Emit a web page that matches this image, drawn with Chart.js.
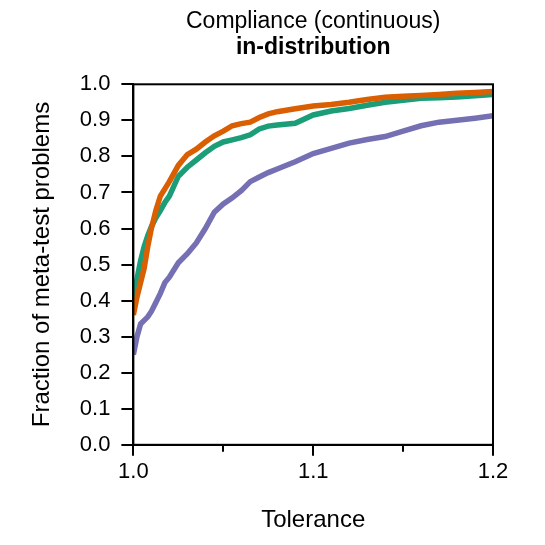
<!DOCTYPE html>
<html>
<head>
<meta charset="utf-8">
<script src="https://cdn.jsdelivr.net/npm/chart.js@4.4.0/dist/chart.umd.min.js"></script>
<style>
  body { margin: 0; background: #fff; }
  #wrap { width: 545px; height: 545px; }
</style>
</head>
<body>
<div id="wrap"><canvas id="chart" width="545" height="545"></canvas></div>
<script>
// Tolerance values shared by all three curves
const tolerance = [1.0, 1.002, 1.004, 1.006, 1.008, 1.01, 1.0125, 1.015, 1.0175, 1.02,
  1.025, 1.03, 1.035, 1.04, 1.045, 1.05, 1.055, 1.06, 1.065, 1.07, 1.075, 1.08,
  1.09, 1.1, 1.11, 1.12, 1.13, 1.14, 1.15, 1.16, 1.17, 1.18, 1.19, 1.2];

// Fraction of meta-test problems solved within the tolerance
const orangeSeries = [0.36, 0.41, 0.45, 0.49, 0.55, 0.60, 0.65, 0.69, 0.71, 0.73,
  0.775, 0.805, 0.82, 0.84, 0.857, 0.87, 0.885, 0.891, 0.895, 0.908, 0.918, 0.924,
  0.932, 0.94, 0.944, 0.95, 0.958, 0.964, 0.967, 0.969, 0.972, 0.975, 0.977, 0.98];
const greenSeries = [0.39, 0.46, 0.51, 0.55, 0.58, 0.605, 0.63, 0.65, 0.672, 0.69,
  0.745, 0.77, 0.79, 0.81, 0.828, 0.84, 0.846, 0.852, 0.86, 0.876, 0.884, 0.887,
  0.892, 0.915, 0.926, 0.933, 0.942, 0.95, 0.956, 0.961, 0.963, 0.965, 0.968, 0.972];
const purpleSeries = [0.25, 0.30, 0.335, 0.345, 0.355, 0.37, 0.395, 0.42, 0.45, 0.465,
  0.505, 0.53, 0.56, 0.60, 0.645, 0.668, 0.685, 0.705, 0.73, 0.743, 0.755, 0.765,
  0.785, 0.808, 0.822, 0.837, 0.847, 0.855, 0.87, 0.885, 0.895, 0.9, 0.906, 0.913];

// Axis ticks
const xTicks = [1.0, 1.05, 1.1, 1.15, 1.2];
const xTickLabels = ['1.0', '', '1.1', '', '1.2'];
const yTicks = [0.0, 0.1, 0.2, 0.3, 0.4, 0.5, 0.6, 0.7, 0.8, 0.9, 1.0];

const FONT = "'Liberation Sans', Arial, sans-serif";

function toPoints(ys) {
    return tolerance.map((x, i) => ({ x: x, y: ys[i] }));
}

function isMinorX(value) {
    return xTickLabels[xTicks.findIndex(t => Math.abs(t - value) < 1e-9)] === '';
}

// Draws the box around the plot and the short minor ticks on the x axis
const framePlugin = {
    id: 'frame',
    afterDraw(chart) {
        const ctx = chart.ctx;
        const a = chart.chartArea;
        const xs = chart.scales.x;
        ctx.save();
        ctx.strokeStyle = '#000';
        ctx.lineWidth = 2;
        ctx.strokeRect(a.left, a.top, a.right - a.left, a.bottom - a.top);
        xTicks.forEach(t => {
            if (isMinorX(t)) {
                const px = Math.round(xs.getPixelForValue(t));
                ctx.beginPath();
                ctx.moveTo(px, a.bottom);
                ctx.lineTo(px, a.bottom + 7);
                ctx.stroke();
            }
        });
        ctx.restore();
    }
};

new Chart(document.getElementById('chart'), {
    type: 'line',
    data: {
        datasets: [
            { data: toPoints(purpleSeries), borderColor: '#7570b3' },
            { data: toPoints(orangeSeries), borderColor: '#d95f02' },
            { data: toPoints(greenSeries), borderColor: '#1b9e77' }
        ]
    },
    options: {
        responsive: false,
        animation: false,
        layout: { padding: { left: 20, right: 52, top: 0, bottom: 0 } },
        elements: {
            line: { borderWidth: 5.5, tension: 0, fill: false },
            point: { radius: 0 }
        },
        scales: {
            x: {
                type: 'linear',
                min: 1.0,
                max: 1.2,
                afterBuildTicks: scale => { scale.ticks = xTicks.map(v => ({ value: v })); },
                ticks: {
                    callback: (v, i) => xTickLabels[i],
                    font: { family: FONT, size: 22 },
                    color: '#000',
                    padding: 3,
                    maxRotation: 0,
                    autoSkip: false
                },
                grid: {
                    drawOnChartArea: false,
                    drawTicks: true,
                    tickLength: 11,
                    lineWidth: 2,
                    color: c => (c.tick && isMinorX(c.tick.value)) ? 'rgba(0,0,0,0)' : '#000'
                },
                border: { display: true, color: '#000', width: 2 },
                title: {
                    display: true,
                    text: 'Tolerance',
                    font: { family: FONT, size: 24 },
                    color: '#000',
                    padding: { top: 18, bottom: 10 }
                }
            },
            y: {
                min: 0,
                max: 1,
                afterBuildTicks: scale => { scale.ticks = yTicks.map(v => ({ value: v })); },
                ticks: {
                    callback: v => v.toFixed(1),
                    font: { family: FONT, size: 22 },
                    color: '#000',
                    padding: 11,
                    autoSkip: false
                },
                grid: {
                    drawOnChartArea: false,
                    drawTicks: true,
                    tickLength: 12,
                    lineWidth: 2,
                    color: '#000'
                },
                border: { display: true, color: '#000', width: 2 },
                title: {
                    display: true,
                    text: 'Fraction of meta-test problems',
                    font: { family: FONT, size: 24 },
                    color: '#000',
                    padding: { top: 8, bottom: 12 }
                }
            }
        },
        plugins: {
            legend: { display: false },
            tooltip: { enabled: false },
            title: {
                display: true,
                text: 'Compliance (continuous)',
                fullSize: false,
                color: '#000',
                font: { family: FONT, size: 23, weight: 'normal', lineHeight: 1.05 },
                padding: { top: 10, bottom: 0 }
            },
            subtitle: {
                display: true,
                text: 'in-distribution',
                fullSize: false,
                color: '#000',
                font: { family: FONT, size: 23, weight: 'bold', lineHeight: 1.05 },
                padding: { top: 1, bottom: 25 }
            }
        }
    },
    plugins: [framePlugin]
});
</script>
</body>
</html>
